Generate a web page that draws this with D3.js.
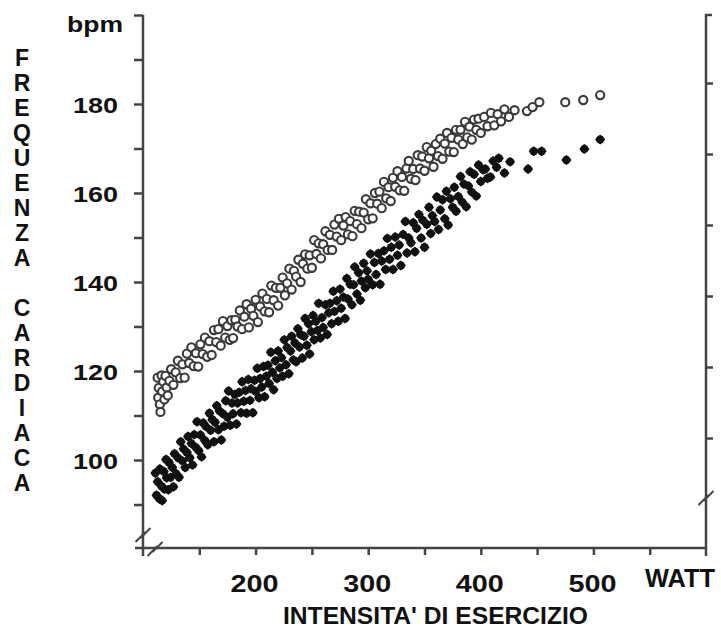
<!DOCTYPE html>
<html><head><meta charset="utf-8">
<script src="https://cdn.jsdelivr.net/npm/d3@7"></script>
<style>
body{margin:0;background:#fff}
svg{display:block}
text{font-family:"Liberation Sans",Arial,Helvetica,sans-serif;font-weight:bold;fill:#111}
</style>
</head><body>
<svg id="chart" width="721" height="630"></svg>
<script>
// ---- data ----
const yTicksAll = [90,100,110,120,130,140,150,160,170,180,190,200];
const yTickLabels = [100,120,140,160,180];
const xTicksAll = [150,200,250,300,350,400,450,500,550];
const xTickLabels = [200,300,400,500];
const rightTicks = [1,2,3,4,5,6];
const yTitleLetters = ["F","R","E","Q","U","E","N","Z","A","","C","A","R","D","I","A","C","A"];
const yUnit = "bpm";
const xUnit = "WATT";
const xTitle = "INTENSITA' DI ESERCIZIO";

// open circles: [watt, bpm]
const openSeries = [
[113,118.5],[113.5,114],[114,116.2],[115,112.5],[115.5,110.8],[116.5,119],[117,115.4],[118,117.6],[119,113.6],[120,118.9],
[121,116.3],[122,114.5],[123.5,117.8],[125,120.4],[127,116.9],[129,119.7],[131,122.3],[133,118.4],[135,121.5],[137,118.5],
[139,123.9],[141,121.8],[143,125.3],[145,121.1],[147,124],[149,121],[151,126],[153,123.8],[155,127.5],[157,123.2],
[159,126.7],[161,123.6],[163,129.2],[165,126.5],[167,129.4],[169,125.7],[171,131.2],[173,127.5],[175,130.1],[177,127],
[178.5,131.4],[180,127.4],[182,131.5],[184,130],[186,133.6],[188,129.4],[190,132.2],[192,135],[194,129.8],[196,134],
[198,132.4],[200,136],[202,131],[204,134.5],[206,137.4],[208,133.4],[210,136.2],[212,133.2],[214,139.2],[216,135.9],
[218,138.7],[220,134.7],[222,138.7],[224,141],[226,137],[228,139.7],[230,143],[232,138.3],[234,142.5],[236,141.2],
[238,145],[240,140],[242,144.1],[244,146.2],[246,143],[248,146],[250,143.2],[252,149.4],[254,146.3],[256,148.7],
[258,145.3],[260,148.5],[262,151.4],[264,147.2],[266,150.6],[268,147.2],[270,152.9],[272,150.2],[274,154.2],[276,149.4],
[278,152.7],[280,154.6],[282,150.7],[284,153.7],[286,150.3],[288,156],[290,153],[292,155.8],[294,152.1],[296,155.6],
[298,158.6],[300,154.1],[302,157.7],[304,154.3],[306,160],[308,157.6],[310,160.3],[312,156.6],[314,162.5],[316,158.8],
[318,161.3],[320,158.2],[322,163.4],[324,161.4],[326,164.9],[328,160.6],[330,163.6],[332,160.5],[334,165.5],[336,167.2],
[338,163.2],[340,165.4],[342,162.9],[344,168.5],[346,165.5],[348,168.2],[350,165],[352,170.3],[354,167.8],[356,169.5],
[358,165.9],[360,171],[362,168.3],[364,172.2],[366,167.7],[368,171.1],[370,173.5],[372,169.3],[374,172.4],[376,169.2],
[378,174.2],[380,172],[382,174.2],[384,171],[386,176],[388,172.5],[390,174.9],[392,172],[394,176.5],[396,174.2],
[398,176.7],[400,173.5],[403,177.1],[406,175],[409,178],[412,175.2],[415,177.7],[418,176.1],[421,178.8],[425,177.1],
[430,178.6],[441,178.4],[446,179.3],[452,180.4],[475,180.4],[491,180.9],[506,182]
];

// filled marks: [watt, bpm]
const filledSeries = [
[111,97.1],[112,92.1],[113,95.1],[114.5,91.3],[115,98.0],[116.5,94.1],[117,90.9],[118.5,97.4],[119,93.5],[120.5,100.1],
[121,96.0],[122.5,93.3],[123,99.5],[124.5,96.1],[126,98.3],[127,94.0],[128,101.4],[129.5,96.9],[131,100.5],[132,96.1],
[133.5,104.1],[135,99.8],[136,102.5],[137.5,98.3],[139,101.7],[140,105.3],[141.5,100.5],[143,103.7],[144,98.9],[145.5,105.7],
[147,102.8],[148,108.6],[149.5,102.1],[151,105.6],[152,100.7],[153.5,108.3],[155,104.4],[156,107.5],[157.5,103.4],[159,110.5],
[160,106.7],[161.5,109.1],[163,104.1],[164,108.5],[165.5,112.2],[167,106.8],[168,111.0],[169.5,104.5],[171,110.4],[172,107.6],
[173.5,113.3],[175,109.6],[176,115.5],[177.5,107.8],[179,112.8],[180,110.4],[181.5,114.7],[183,108.1],[184,112.8],[185.5,115.2],
[187,110.6],[188,117.6],[189.5,113.2],[191,115.6],[192,110.5],[193.5,118.1],[195,113.4],[196,116.0],[197.5,110.6],[199,117.9],
[200,115.4],[201.5,120.6],[203,114.0],[204,118.3],[205.5,116.4],[207,121.0],[208,114.2],[209.5,118.8],[211,121.3],[212,117.2],
[213.5,124.2],[215,119.7],[216,115.8],[217.5,122.3],[219,118.3],[220,124.5],[221.5,120.7],[223,123.0],[224,118.8],[225.5,127.0],
[227,121.4],[228,125.3],[229.5,119.4],[231,124.5],[232,127.8],[233.5,122.5],[235,126.3],[236,122.1],[237.5,129.5],[239,125.4],
[240,128.2],[241.5,122.9],[243,127.8],[244,131.8],[245.5,125.8],[247,130.6],[248,123.8],[249.5,128.8],[251,132.5],[252,127.0],
[253.5,131.2],[255,129.1],[256,135.2],[257.5,127.4],[259,132.0],[260,129.8],[262,134.9],[263.5,128.2],[265,133.1],[266,135.2],
[267.5,130.6],[269,137.9],[270,133.4],[272,135.8],[273.5,131.2],[275,138.4],[276,134.1],[278,136.6],[279.5,131.8],[281,140.8],
[282,136.2],[284,139.5],[285.5,134.9],[287,139.4],[288,143.4],[290,137.3],[291.5,142.1],[293,135.9],[294,140.2],[296,144.2],
[297.5,138.7],[299,142.5],[300,140.6],[302,146.3],[304,139.4],[305.5,144.4],[307,141.7],[309,146.4],[310.5,139.5],[312,144.7],
[314,147.0],[315.5,142.8],[317,149.8],[319,145.1],[320.5,147.8],[322,142.8],[324,150.1],[326,146.0],[327.5,148.3],[329,143.7],
[331,150.7],[333,153.6],[334.5,146.5],[336,149.9],[338,148.8],[340,153.3],[341.5,146.8],[343,152.1],[345,155.2],[347,149.9],
[348.5,153.9],[350,147.8],[352,153.0],[354,156.8],[355.5,150.9],[357,154.9],[359,153.6],[361,159.1],[362.5,151.8],[364,156.2],
[366,158.5],[368,154.2],[369.5,160.4],[371,152.8],[373,158.7],[375,156.8],[376.5,161.3],[378,155.9],[380,159.2],[382,163.7],
[383.5,158.0],[385,162.0],[387,156.9],[389,161.6],[390.5,164.8],[392,160.2],[394,164.2],[396,159.3],[398,166.3],[400,162.6],
[402,165.2],[404,165.4],[406,163.3],[408.5,163.6],[411,167.2],[414,165.8],[416,167.8],[421,164.5],[426,167],[442,165.4],
[447,169.4],[454,169.4],[476,167.4],[492,169.9],[506,172]
];

// ---- drawing ----
const svg = d3.select("#chart");
const ink = "#444";

const x = d3.scaleLinear().domain([100, 600]).range([143, 706]);
const y = d3.scaleLinear().domain([80, 200]).range([549, 15]);
const yR = d3.scaleLinear().domain([0, 7]).range([509, 12]);

// left axis
const gL = svg.append("g").attr("transform", `translate(${x(100)},0)`)
  .call(d3.axisLeft(y).tickValues(yTicksAll).tickSize(9).tickSizeOuter(0)
    .tickFormat(d => yTickLabels.includes(d) ? d : ""));
gL.select(".domain").remove();
gL.selectAll(".tick line").attr("stroke", ink).attr("stroke-width", 2.5);
gL.selectAll(".tick text")
  .attr("x", -25).attr("dy", null).attr("y", 8)
  .attr("font-size", 22).attr("font-family", null).attr("fill", "#161616")
  .attr("textLength", 45).attr("lengthAdjust", "spacingAndGlyphs");

// bottom axis
const gB = svg.append("g").attr("transform", `translate(0,${y(80) - 1})`)
  .call(d3.axisBottom(x).tickValues(xTicksAll).tickSize(7).tickSizeOuter(0)
    .tickFormat(d => xTickLabels.includes(d) ? d : ""));
gB.select(".domain").remove();
gB.selectAll(".tick line").attr("stroke", ink).attr("stroke-width", 2.5);
gB.selectAll(".tick text")
  .attr("dy", null).attr("y", 44).attr("x", -1.5)
  .attr("font-size", 23).attr("font-family", null).attr("fill", "#222")
  .attr("textLength", 48).attr("lengthAdjust", "spacingAndGlyphs");

// right axis
const gR = svg.append("g").attr("transform", `translate(${x(600)},0)`)
  .call(d3.axisRight(yR).tickValues(rightTicks).tickSize(7).tickSizeOuter(0).tickFormat(""));
gR.select(".domain").remove();
gR.selectAll(".tick line").attr("stroke", ink).attr("stroke-width", 2.5);

// axis lines
const xl = x(100), xr = x(600), yb = y(80) - 1, yt = y(200);
svg.append("path").attr("d", `M${xl},${yt} V${yb + 8}`).attr("stroke", ink).attr("stroke-width", 2.5).attr("fill", "none");
svg.append("path").attr("d", `M${xl - 8},${yb} H${xr}`).attr("stroke", ink).attr("stroke-width", 2.5).attr("fill", "none");
svg.append("path").attr("d", `M${xr + 6},${yt} H${xr} V${yb + 8}`).attr("stroke", ink).attr("stroke-width", 2.5).attr("fill", "none");

// break marks
function brk(cx, cy) {
  [[-2.5, 2], [2.5, -2]].forEach(([dx, dy]) => {
    svg.append("line")
      .attr("x1", cx + dx - 5).attr("y1", cy + dy + 5)
      .attr("x2", cx + dx + 5).attr("y2", cy + dy - 5)
      .attr("stroke", ink).attr("stroke-width", 2);
  });
}
brk(xl, 535);
brk(155, 549);
brk(xr, 498);

// data: open circles
svg.append("g").selectAll("circle").data(openSeries).join("circle")
  .attr("cx", d => x(d[0])).attr("cy", d => y(d[1])).attr("r", 4.1)
  .attr("fill", "#fff").attr("stroke", "#3a3a3a").attr("stroke-width", 2.1);

// data: filled marks (4-point star)
const star4 = {
  draw(ctx, size) {
    const r = Math.sqrt(size) * 0.75, w = r * 0.6;
    ctx.moveTo(0, -r); ctx.lineTo(w, -w); ctx.lineTo(r, 0); ctx.lineTo(w, w);
    ctx.lineTo(0, r); ctx.lineTo(-w, w); ctx.lineTo(-r, 0); ctx.lineTo(-w, -w); ctx.closePath();
  }
};
svg.append("g").selectAll("path").data(filledSeries).join("path")
  .attr("transform", d => `translate(${x(d[0])},${y(d[1])})`)
  .attr("d", d3.symbol().type(star4).size(44))
  .attr("fill", "#111");

// labels
svg.append("text").attr("x", 67).attr("y", 32).attr("font-size", 22)
  .attr("textLength", 56).attr("lengthAdjust", "spacingAndGlyphs").text(yUnit);
svg.append("text").attr("x", 645).attr("y", 587).attr("font-size", 25)
  .attr("textLength", 70).attr("lengthAdjust", "spacingAndGlyphs").text(xUnit);
svg.append("text").attr("x", 283).attr("y", 624).attr("font-size", 23)
  .attr("textLength", 305).attr("lengthAdjust", "spacingAndGlyphs").text(xTitle);
svg.append("g").selectAll("text").data(yTitleLetters).join("text")
  .attr("x", 22).attr("y", (d, i) => 66 + i * 25)
  .attr("text-anchor", "middle").attr("font-size", 23).text(d => d);
</script>
</body></html>
